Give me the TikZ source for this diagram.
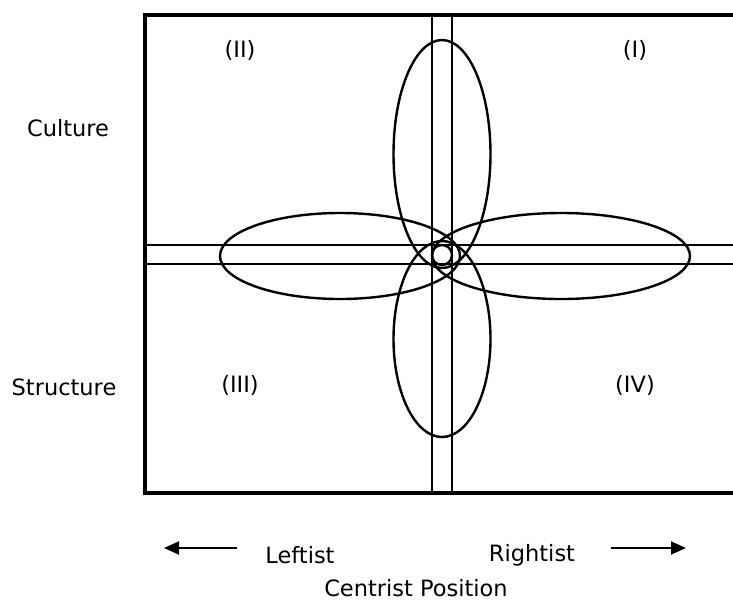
\documentclass[tikz,border=0pt]{standalone}
\usepackage{fontspec}
\setmainfont{DejaVu Sans}
\usetikzlibrary{arrows.meta}

\begin{document}
\begin{tikzpicture}[x=1pt, y=-1pt,
  frame/.style={line width=3.2pt},
  band/.style={line width=2.4pt},
  petal/.style={line width=2.4pt},
  lab/.style={font=\fontsize{22.5}{26}\selectfont, inner sep=0pt},
  dirarrow/.style={line width=1.8pt, -{Triangle[length=15pt, width=13pt]}}
]
\useasboundingbox (0,0) rectangle (733,603);
% frame, open on the right
\draw[frame] (733,15) -- (145,15) -- (145,493) -- (733,493);
% the two double bands
\draw[band] (432,15) -- (432,493) (452,15) -- (452,493);
\draw[band] (145,245) -- (733,245) (145,264) -- (733,264);
% four petals and the small circle
\draw[petal] (442,154) ellipse [x radius=48.5, y radius=114];
\draw[petal] (442,339) ellipse [x radius=48.5, y radius=98];
\draw[petal] (340,256) ellipse [x radius=120, y radius=43];
\draw[petal] (561,256) ellipse [x radius=129, y radius=43];
\draw[petal] (442,255) circle [radius=10];
% quadrant labels
\foreach \n/\x/\y/\t in {q1/635/50/(I),q2/240/50/(II),q3/240/385/(III),q4/635/385/(IV)}
  \node[lab] (\n) at (\x,\y) {\t};
\node[lab] (culture) at (68,128) {Culture};
\node[lab] (structure) at (64,387) {Structure};
% axis underneath
\node[lab] (left) at (300,555) {Leftist};
\node[lab] (right) at (532,555) {Rightist};
\node[lab] (centrist) at (416,588) {Centrist Position};
\coordinate (lefttip) at (164,548);
\coordinate (righttip) at (686,548);
\draw[dirarrow] (left.west) ++(-28,-7) -- (lefttip);
\draw[dirarrow] (right.east) ++(36,-7) -- (righttip);
\end{tikzpicture}
\end{document}
